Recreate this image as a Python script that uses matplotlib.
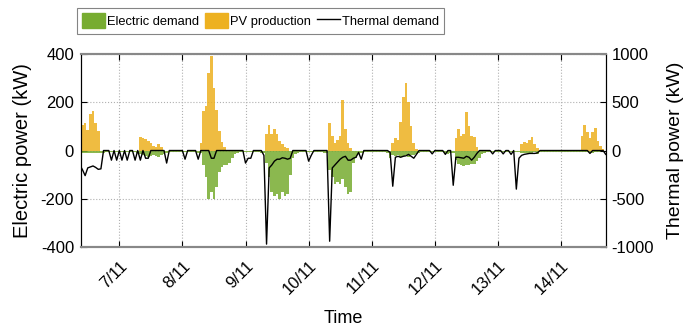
import numpy as np
import matplotlib
matplotlib.use("Agg")
import matplotlib.pyplot as plt
import matplotlib.patches as mpatches
from matplotlib.lines import Line2D
from matplotlib.transforms import ScaledTranslation

plt.rcParams['font.family'] = ['Liberation Sans', 'DejaVu Sans']
plt.rcParams['axes.unicode_minus'] = False

# hourly samples, 6/11 09:00 -> 14/11 17:00
start_day = 6
start_hour = 9

# electric demand (kW, negative = load)
elec_d6 = [-10, -12, -12, -10, -12, -12, -10, -10, -12, -10, -8, -8, -8, -8, -8]
elec_d7 = [-8, -8, -8, -8, -8, -8, -8, -10, -15, -20, -22, -25, -22, -20, -22, -25, -20, -15, -10, -8, -8, -8, -8, -8]
elec_d8 = [-8, -8, -8, -8, -8, -8, -10, -12, -60, -110, -200, -170, -200, -150, -90, -70, -60, -60, -50, -30, -15, -10, -8, -8]
elec_d9 = [-8, -8, -8, -8, -8, -8, -10, -12, -50, -110, -170, -190, -180, -200, -170, -190, -180, -100, -30, -15, -10, -8, -8, -8]
elec_d10 = [-8, -8, -8, -8, -8, -8, -10, -12, -80, -110, -140, -130, -140, -120, -150, -180, -170, -50, -30, -15, -10, -8, -8, -8]
elec_d11 = [-8, -8, -8, -8, -8, -8, -10, -30, -20, -22, -20, -25, -22, -20, -25, -20, -18, -15, -10, -8, -8, -8, -8, -8]
elec_d12 = [-8, -8, -8, -8, -10, -15, -10, -12, -40, -55, -60, -65, -60, -60, -55, -55, -45, -30, -15, -10, -8, -8, -8, -8]
elec_d13 = [-6, -6, -6, -6, -6, -6, -6, -8, -8, -10, -10, -12, -10, -10, -8, -15, -8, -8, -6, -6, -6, -6, -6, -6]
elec_d14 = [-5, -5, -5, -5, -5, -5, -5, -6, -8, -8, -8, -6, -10, -8, -6, -6, -5, -5]

# PV production (kW)
pv_d6 = [60, 105, 115, 85, 150, 165, 115, 80, 0, 0, 0, 0, 0, 0, 0]
pv_d7 = [0, 0, 0, 0, 0, 0, 0, 0, 55, 50, 48, 40, 30, 20, 15, 25, 15, 0, 0, 0, 0, 0, 0, 0]
pv_d8 = [0, 0, 0, 0, 0, 0, 0, 30, 165, 185, 320, 390, 260, 170, 80, 35, 15, 0, 0, 0, 0, 0, 0, 0]
pv_d9 = [0, 0, 0, 0, 0, 0, 0, 0, 70, 105, 70, 90, 70, 40, 25, 15, 10, 0, 0, 0, 0, 0, 0, 0]
pv_d10 = [0, 0, 0, 0, 0, 0, 0, 0, 115, 60, 30, 45, 60, 210, 90, 30, 10, 0, 0, 0, 0, 0, 0, 0]
pv_d11 = [0, 0, 0, 0, 0, 0, 0, 0, 30, 50, 45, 120, 220, 280, 200, 100, 30, 5, 0, 0, 0, 0, 0, 0]
pv_d12 = [0, 0, 0, 0, 0, 0, 0, 0, 50, 90, 60, 70, 160, 100, 60, 55, 15, 0, 0, 0, 0, 0, 0, 0]
pv_d13 = [0, 0, 0, 0, 0, 0, 0, 0, 0, 25, 35, 30, 45, 55, 25, 12, 0, 0, 0, 0, 0, 0, 0, 0]
pv_d14 = [0, 0, 0, 0, 0, 0, 0, 0, 60, 105, 75, 50, 75, 95, 40, 20, 5, 0]

# thermal demand (kW, right axis)
th_d6 = [-150, -200, -260, -180, -170, -160, -175, -195, -190, 0, 0, 0, -100, 0, -100]
th_d7 = [0, -100, 0, -100, 0, 0, -100, 0, -100, 0, -80, -80, 0, 0, 0, 0, 0, 0, -130, 0, 0, 0, 0, 0]
th_d8 = [0, -90, 0, 0, 0, 0, -90, 0, 0, 0, 0, -80, -80, 0, 0, 0, 0, 0, 0, 0, 0, 0, 0, 0]
th_d9 = [-130, -80, -80, 0, 0, 0, 0, -50, -970, -180, -150, -110, -90, -90, -75, -80, -90, -80, 0, 0, 0, 0, 0, 0]
th_d10 = [-110, -50, 0, 0, 0, 0, 0, 0, -940, -180, -150, -120, -90, -70, -60, -100, -100, -80, -70, -20, -90, 0, 0, 0]
th_d11 = [0, 0, 0, 0, 0, 0, 0, -20, -370, -70, -60, -70, -60, -55, -40, -60, -80, -40, 0, 0, 0, 0, 0, -35]
th_d12 = [0, 0, 0, 0, -40, 0, 0, -360, -70, -70, -75, -80, -60, -70, -100, -70, -30, 0, 0, 0, 0, 0, -35, 0]
th_d13 = [0, 0, -35, 0, 0, -40, 0, -400, -80, -50, -40, -35, -30, -30, -30, -25, 0, 0, 0, 0, 0, 0, 0, 0]
th_d14 = [0, 0, 0, 0, 0, 0, 0, 0, 0, 0, 0, -30, 0, 0, 0, 0, 0, -40]

elec = np.concatenate([elec_d6, elec_d7, elec_d8, elec_d9, elec_d10, elec_d11, elec_d12, elec_d13, elec_d14])
pv = np.concatenate([pv_d6, pv_d7, pv_d8, pv_d9, pv_d10, pv_d11, pv_d12, pv_d13, pv_d14])
thermal = np.concatenate([th_d6, th_d7, th_d8, th_d9, th_d10, th_d11, th_d12, th_d13, th_d14])

t = start_day + (start_hour + np.arange(len(elec))) / 24.0

day_ticks = [7, 8, 9, 10, 11, 12, 13, 14]
day_labels = [f"{d}/11" for d in day_ticks]

green = '#77AC30'
orange = '#EDB120'

fig = plt.figure(figsize=(6.88, 3.27), dpi=100)
ax = fig.add_axes([0.1177, 0.2446, 0.7631, 0.5902])

ax.bar(t, elec, width=1/24, color=green, alpha=0.85, linewidth=0, zorder=2)
ax.bar(t, pv, width=1/24, color=orange, alpha=0.85, linewidth=0, zorder=2)

ax.set_xlim(6.3925, 14.7125)
ax.set_ylim(-400, 400)
ax.set_yticks([-400, -200, 0, 200, 400])
ax.set_xticks(day_ticks)
ax.set_xticklabels(day_labels, rotation=45, ha='right', va='top', rotation_mode='anchor')
shift = ScaledTranslation(-6/72, 0, fig.dpi_scale_trans)
for lab in ax.get_xticklabels():
    lab.set_transform(lab.get_transform() + shift)
ax.grid(True, color='#b0b0b0', linestyle=':', linewidth=0.8)
ax.set_axisbelow(True)
ax.tick_params(direction='in', top=True, labelsize=12, length=4, pad=5)
ax.tick_params(axis='x', pad=8)
ax.set_xlabel("Time", fontsize=13, labelpad=9)
ax.set_ylabel("Electric power (kW)", fontsize=14.5, labelpad=6)

ax2 = ax.twinx()
ax2.plot(t, thermal, color='black', linewidth=1.0, zorder=3)
ax2.set_ylim(-1000, 1000)
ax2.set_yticks([-1000, -500, 0, 500, 1000])
ax2.tick_params(direction='in', labelsize=12, length=4, pad=4)
ax2.set_ylabel("Thermal power (kW)", fontsize=14, rotation=90, labelpad=9)

for a in (ax, ax2):
    a.spines['top'].set_color('#888888')
    a.spines['bottom'].set_color('#888888')
    a.spines['top'].set_linewidth(1.5)
    a.spines['bottom'].set_linewidth(1.5)
    a.spines['left'].set_color('black')
    a.spines['right'].set_color('black')

handles = [mpatches.Patch(color=green, label='Electric demand'),
           mpatches.Patch(color=orange, label='PV production'),
           Line2D([0], [0], color='black', linewidth=1.0, label='Thermal demand')]
leg = fig.legend(handles=handles, loc='center', bbox_to_anchor=(0.379, 0.937), ncol=3,
                 fontsize=9.3, frameon=True, fancybox=False, edgecolor='#666666',
                 handlelength=1.8, handleheight=1.5, handletextpad=0.15, columnspacing=0.45,
                 borderpad=0.4, borderaxespad=0)
leg.get_frame().set_linewidth(0.8)

fig.savefig("out.png", dpi=100)
